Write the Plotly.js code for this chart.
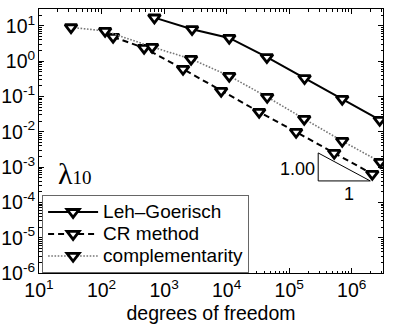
<!DOCTYPE html>
<html>
<head>
<meta charset="utf-8">
<script src="https://cdn.plot.ly/plotly-3.0.1.min.js"></script>
<style>
  html, body { margin: 0; padding: 0; background: #fff; }
  #plot { width: 395px; height: 324px; }
</style>
</head>
<body>
<div id="plot"></div>
<script>
/* lambda_10: error vs degrees of freedom, three bounds */

var lgDof = [700, 2800, 11000, 44000, 176000, 705000, 2.8e6];
var lgErr = [17.2, 8.1, 4.57, 1.3, 0.33, 0.0855, 0.0217];

var crDof = [153, 479, 2010, 8170, 33100, 129000, 525000, 2.13e6];
var crErr = [4.87, 2.38, 0.60, 0.144, 0.0366, 0.0099, 0.0025, 0.00064];

var compDof = [32.5, 114, 643, 2700, 11000, 44500, 174000, 705000, 2.86e6];
var compErr = [9.1, 7.2, 2.54, 1.16, 0.383, 0.097, 0.0232, 0.0055, 0.0014];

// slope triangle (rate 1.00)
var triX = [2.91e5, 2.91e5, 1.98e6, 2.91e5];
var triY = [2.52e-3, 4.06e-4, 4.06e-4, 2.52e-3];

var names = ['Leh\u2013Goerisch', 'CR method', 'complementarity'];
var decadesX = [1, 2, 3, 4, 5, 6];
var decadesY = [1, 0, -1, -2, -3, -4, -5, -6];

function pow10(k) { return Math.pow(10, k); }
function powLabel(k) { return '10<sup>' + k + '</sup>'; }
function minors(lo, hi) {
  var out = [], k, m;
  for (k = lo; k <= hi; k++) for (m = 2; m <= 9; m++) out.push(m * Math.pow(10, k));
  return out;
}
// legend text drawn bigger than the legend's own font, so rows stay tight
function big(s) { return '<span style="font-size:19px">' + s + '</span>'; }

var mk = { symbol: 'triangle-down', size: 10.5, color: '#fff', line: { color: '#000', width: 2.8 } };

var traces = [
  { x: lgDof, y: lgErr, name: big(names[0]), mode: 'lines+markers',
    line: { color: '#000', width: 2 }, marker: mk },
  { x: crDof, y: crErr, name: big(names[1]), mode: 'lines+markers',
    line: { color: '#000', width: 2, dash: '6px,4px' }, marker: mk },
  { x: compDof, y: compErr, name: big(names[2]), mode: 'lines+markers',
    line: { color: '#777', width: 1.6, dash: '1.6px,1.6px' }, marker: mk },
  { x: triX, y: triY, mode: 'lines', showlegend: false, hoverinfo: 'skip',
    line: { color: '#000', width: 1 } }
];

var font = 'Liberation Sans, Arial, sans-serif';

var axisCommon = {
  type: 'log',
  showgrid: false,
  zeroline: false,
  showline: true,
  linecolor: '#000',
  linewidth: 1,
  mirror: 'allticks',
  ticks: 'inside',
  ticklen: 5,
  tickcolor: '#000',
  tickmode: 'array',
  tickfont: { family: font, size: 19.5, color: '#000' },
  fixedrange: true
};

var layout = {
  width: 395,
  height: 324,
  margin: { l: 39, r: 12, t: 9, b: 51 },
  paper_bgcolor: '#fff',
  plot_bgcolor: '#fff',
  font: { family: font, size: 16, color: '#000' },
  showlegend: true,
  legend: {
    x: 0.009, y: 0.295, xanchor: 'left', yanchor: 'top',
    bgcolor: '#fff', bordercolor: '#666', borderwidth: 1,
    font: { family: font, size: 14.6, color: '#000' },
    itemwidth: 50, tracegroupgap: 0
  },
  xaxis: Object.assign({}, axisCommon, {
    range: [1, 6.5],
    tickvals: decadesX.map(pow10),
    ticktext: decadesX.map(powLabel),
    minor: { tickmode: 'array', tickvals: minors(1, 6), ticks: 'inside', ticklen: 2.5, tickcolor: '#000', showgrid: false },
    title: { text: 'degrees of freedom', font: { family: font, size: 19.5, color: '#000' } }
  }),
  yaxis: Object.assign({}, axisCommon, {
    range: [-6, 1.48],
    tickvals: decadesY.map(pow10),
    ticktext: decadesY.map(powLabel),
    ticklabelstandoff: -1,
    minor: { tickmode: 'array', tickvals: minors(-6, 1), ticks: 'inside', ticklen: 2.5, tickcolor: '#000', showgrid: false }
  }),
  annotations: [
    { xref: 'paper', yref: 'paper', x: 0.05, y: 0.378, xanchor: 'left', yanchor: 'middle',
      text: '\u03bb<span style="font-size:19px">10</span>', showarrow: false,
      font: { family: 'Liberation Serif, DejaVu Serif, serif', size: 30, color: '#000' } },
    { x: 5.448, y: -3.066, xanchor: 'right', yanchor: 'middle', text: '1.00', showarrow: false,
      font: { family: font, size: 18, color: '#000' } },
    { x: 5.96, y: -3.76, xanchor: 'center', yanchor: 'middle', text: '1', showarrow: false,
      font: { family: font, size: 18, color: '#000' } }
  ]
};

Plotly.newPlot('plot', traces, layout, { displayModeBar: false, staticPlot: true });
</script>
</body>
</html>
